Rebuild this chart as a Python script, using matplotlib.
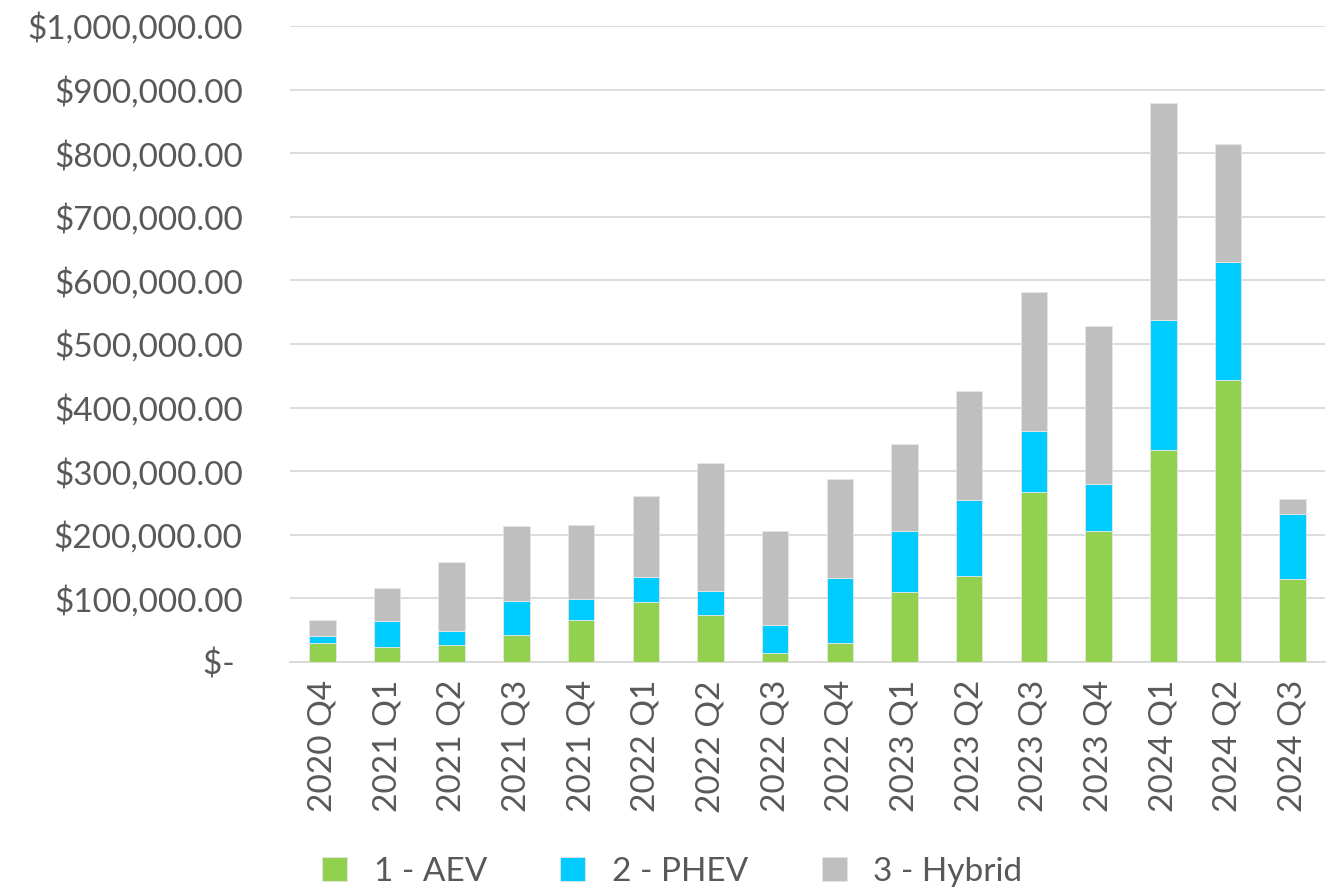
"""Stacked quarterly spend by vehicle type."""

import matplotlib
matplotlib.use('Agg')
import matplotlib.pyplot as plt
from matplotlib.ticker import FuncFormatter, MultipleLocator

quarters = ['2020 Q4', '2021 Q1', '2021 Q2', '2021 Q3', '2021 Q4',
            '2022 Q1', '2022 Q2', '2022 Q3', '2022 Q4', '2023 Q1',
            '2023 Q2', '2023 Q3', '2023 Q4', '2024 Q1', '2024 Q2', '2024 Q3']
aev = [30000, 24000, 27000, 42000, 66000, 94000, 74000, 14000, 30000,
       110000, 135000, 267000, 206000, 333000, 443000, 130000]
phev = [11000, 41000, 22000, 54000, 33000, 40000, 38000, 44000, 102000,
        96000, 120000, 96000, 74000, 205000, 186000, 103000]
hybrid = [25000, 51000, 108000, 118000, 116000, 127000, 201000, 148000, 156000,
          137000, 171000, 219000, 248000, 341000, 185000, 23000]

GREEN = '#92d050'
BLUE = '#00ccff'
GRAY = '#bfbfbf'
TEXT = '#595959'
FONTSIZE = 24

plt.rcParams['font.family'] = ['Lato', 'DejaVu Sans']
plt.rcParams['font.size'] = FONTSIZE

fig = plt.figure(figsize=(13.31, 8.90), dpi=100)
ax = fig.add_axes([290 / 1331, 1 - 662 / 890, 1035 / 1331, 636 / 890])

x = list(range(len(quarters)))
w = 0.41
bottom2 = [a for a in aev]
bottom3 = [a + p for a, p in zip(aev, phev)]
ax.bar(x, aev, w, color=GREEN, edgecolor='#e6e6e6', linewidth=0.6,
       label='1 - AEV', zorder=3)
ax.bar(x, phev, w, bottom=bottom2, color=BLUE, edgecolor='#e6e6e6',
       linewidth=0.6, label='2 - PHEV', zorder=3)
ax.bar(x, hybrid, w, bottom=bottom3, color=GRAY, edgecolor='#e6e6e6',
       linewidth=0.6, label='3 - Hybrid', zorder=3)

ax.set_xlim(-0.5, len(quarters) - 0.5)
ax.set_ylim(0, 1000000)
ax.yaxis.set_major_locator(MultipleLocator(100000))


def money(v, pos):
    if v == 0:
        return '$- '
    return '${:,.2f}'.format(v)


ax.yaxis.set_major_formatter(FuncFormatter(money))
ax.grid(axis='y', color='#d9d9d9', linewidth=1.3, zorder=0)
ax.set_xticks(x)
ax.set_xticklabels(quarters, rotation=90)
ax.tick_params(axis='both', length=0, colors=TEXT, labelsize=FONTSIZE)
ax.tick_params(axis='y', pad=34)
ax.tick_params(axis='x', pad=13)
for s in ['top', 'right', 'left']:
    ax.spines[s].set_visible(False)
ax.spines['bottom'].set_color('#d9d9d9')
ax.spines['bottom'].set_linewidth(1.3)

leg = fig.legend(loc='lower center', bbox_to_anchor=(0.505, -0.03), ncol=3,
                 frameon=False, handlelength=0.75, handleheight=0.75,
                 columnspacing=2.2, handletextpad=0.8, fontsize=FONTSIZE)
for t in leg.get_texts():
    t.set_color(TEXT)

fig.savefig('out.png', dpi=100)
